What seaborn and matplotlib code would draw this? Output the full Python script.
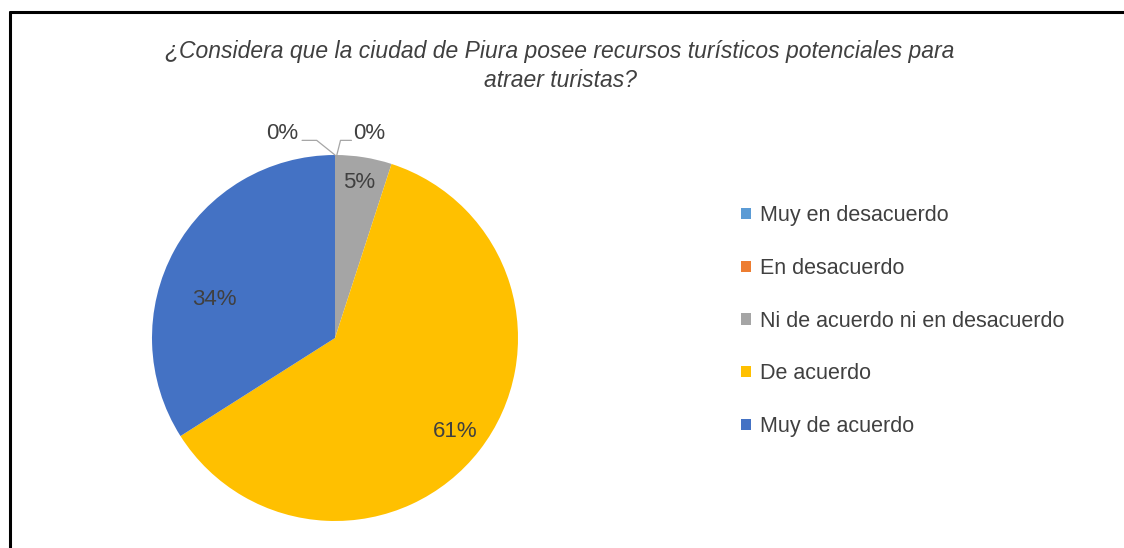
import numpy as np
import matplotlib
matplotlib.use("Agg")
import matplotlib.pyplot as plt
import seaborn as sns

# Survey answers and their shares (%)
categories = ["Muy en desacuerdo", "En desacuerdo", "Ni de acuerdo ni en desacuerdo",
              "De acuerdo", "Muy de acuerdo"]
shares = [0, 0, 5, 61, 34]
title = "¿Considera que la ciudad de Piura posee recursos turísticos potenciales para\natraer turistas?"

sns.set_theme(style="white")
plt.rcParams["font.family"] = ["Liberation Sans", "DejaVu Sans"]

palette = sns.color_palette(["#5B9BD5", "#ED7D31", "#A5A5A5", "#FFC000", "#4472C4"])
text_color = "#404040"

fig = plt.figure(figsize=(11.24, 5.48), dpi=100)
W, H = 1124, 548

# chart frame (left and top edges)
fig.add_artist(plt.Line2D([10 / W, 10 / W], [0, 1 - 12 / H], color="black", lw=2.2))
fig.add_artist(plt.Line2D([10 / W, 1], [1 - 12 / H, 1 - 12 / H], color="black", lw=2.2))

fig.text(560 / W, 1 - 66 / H, title, ha="center", va="center", fontsize=16.5,
         style="italic", color=text_color, linespacing=1.3)

cx, cy, r = 335, 338, 183
ax = fig.add_axes([(cx - r) / W, (H - cy - r) / H, 2 * r / W, 2 * r / H])
wedges, _ = ax.pie(shares, colors=palette, startangle=90, counterclock=False,
                   wedgeprops=dict(linewidth=0))
ax.set_xlim(-1, 1)
ax.set_ylim(-1, 1)
ax.set_aspect("equal")
ax.axis("off")

label_size = 16
# percentage labels inside the visible slices
radii = {2: 0.86, 3: 0.83, 4: 0.69}
nudge = {2: 0, 3: 0, 4: 11}
for i, w in enumerate(wedges):
    if shares[i] == 0:
        continue
    ang = np.deg2rad((w.theta1 + w.theta2) / 2 + nudge[i])
    ax.text(radii[i] * np.cos(ang), radii[i] * np.sin(ang), f"{shares[i]}%",
            ha="center", va="center", fontsize=label_size, color=text_color)

# zero-share slices get labels outside with leader lines
zero_idx = [i for i, v in enumerate(shares) if v == 0]
for k, i in enumerate(zero_idx):
    ang = np.deg2rad(wedges[i].theta1)
    x0, y0 = np.cos(ang), np.sin(ang)
    if k == 0:
        pts = [(x0, y0), (x0 - 0.10, y0 + 0.08), (x0 - 0.18, y0 + 0.08)]
        tx, ha = x0 - 0.20, "right"
    else:
        pts = [(x0 + 0.01, y0), (x0 + 0.03, y0 + 0.08), (x0 + 0.09, y0 + 0.08)]
        tx, ha = x0 + 0.10, "left"
    xs, ys = zip(*pts)
    ax.plot(xs, ys, color="#A6A6A6", lw=0.9, clip_on=False)
    ax.text(tx, y0 + 0.12, f"{shares[i]}%", ha=ha, va="center", fontsize=label_size,
            color=text_color, clip_on=False)

leg = fig.legend(wedges, categories, loc="upper left",
                 bbox_to_anchor=(722 / W, 1 - 186 / H), frameon=False,
                 fontsize=15.5, labelcolor=text_color, handlelength=0.45,
                 handleheight=0.45, handletextpad=0.4, labelspacing=1.47)

fig.savefig("out.png", dpi=100, facecolor="white")
